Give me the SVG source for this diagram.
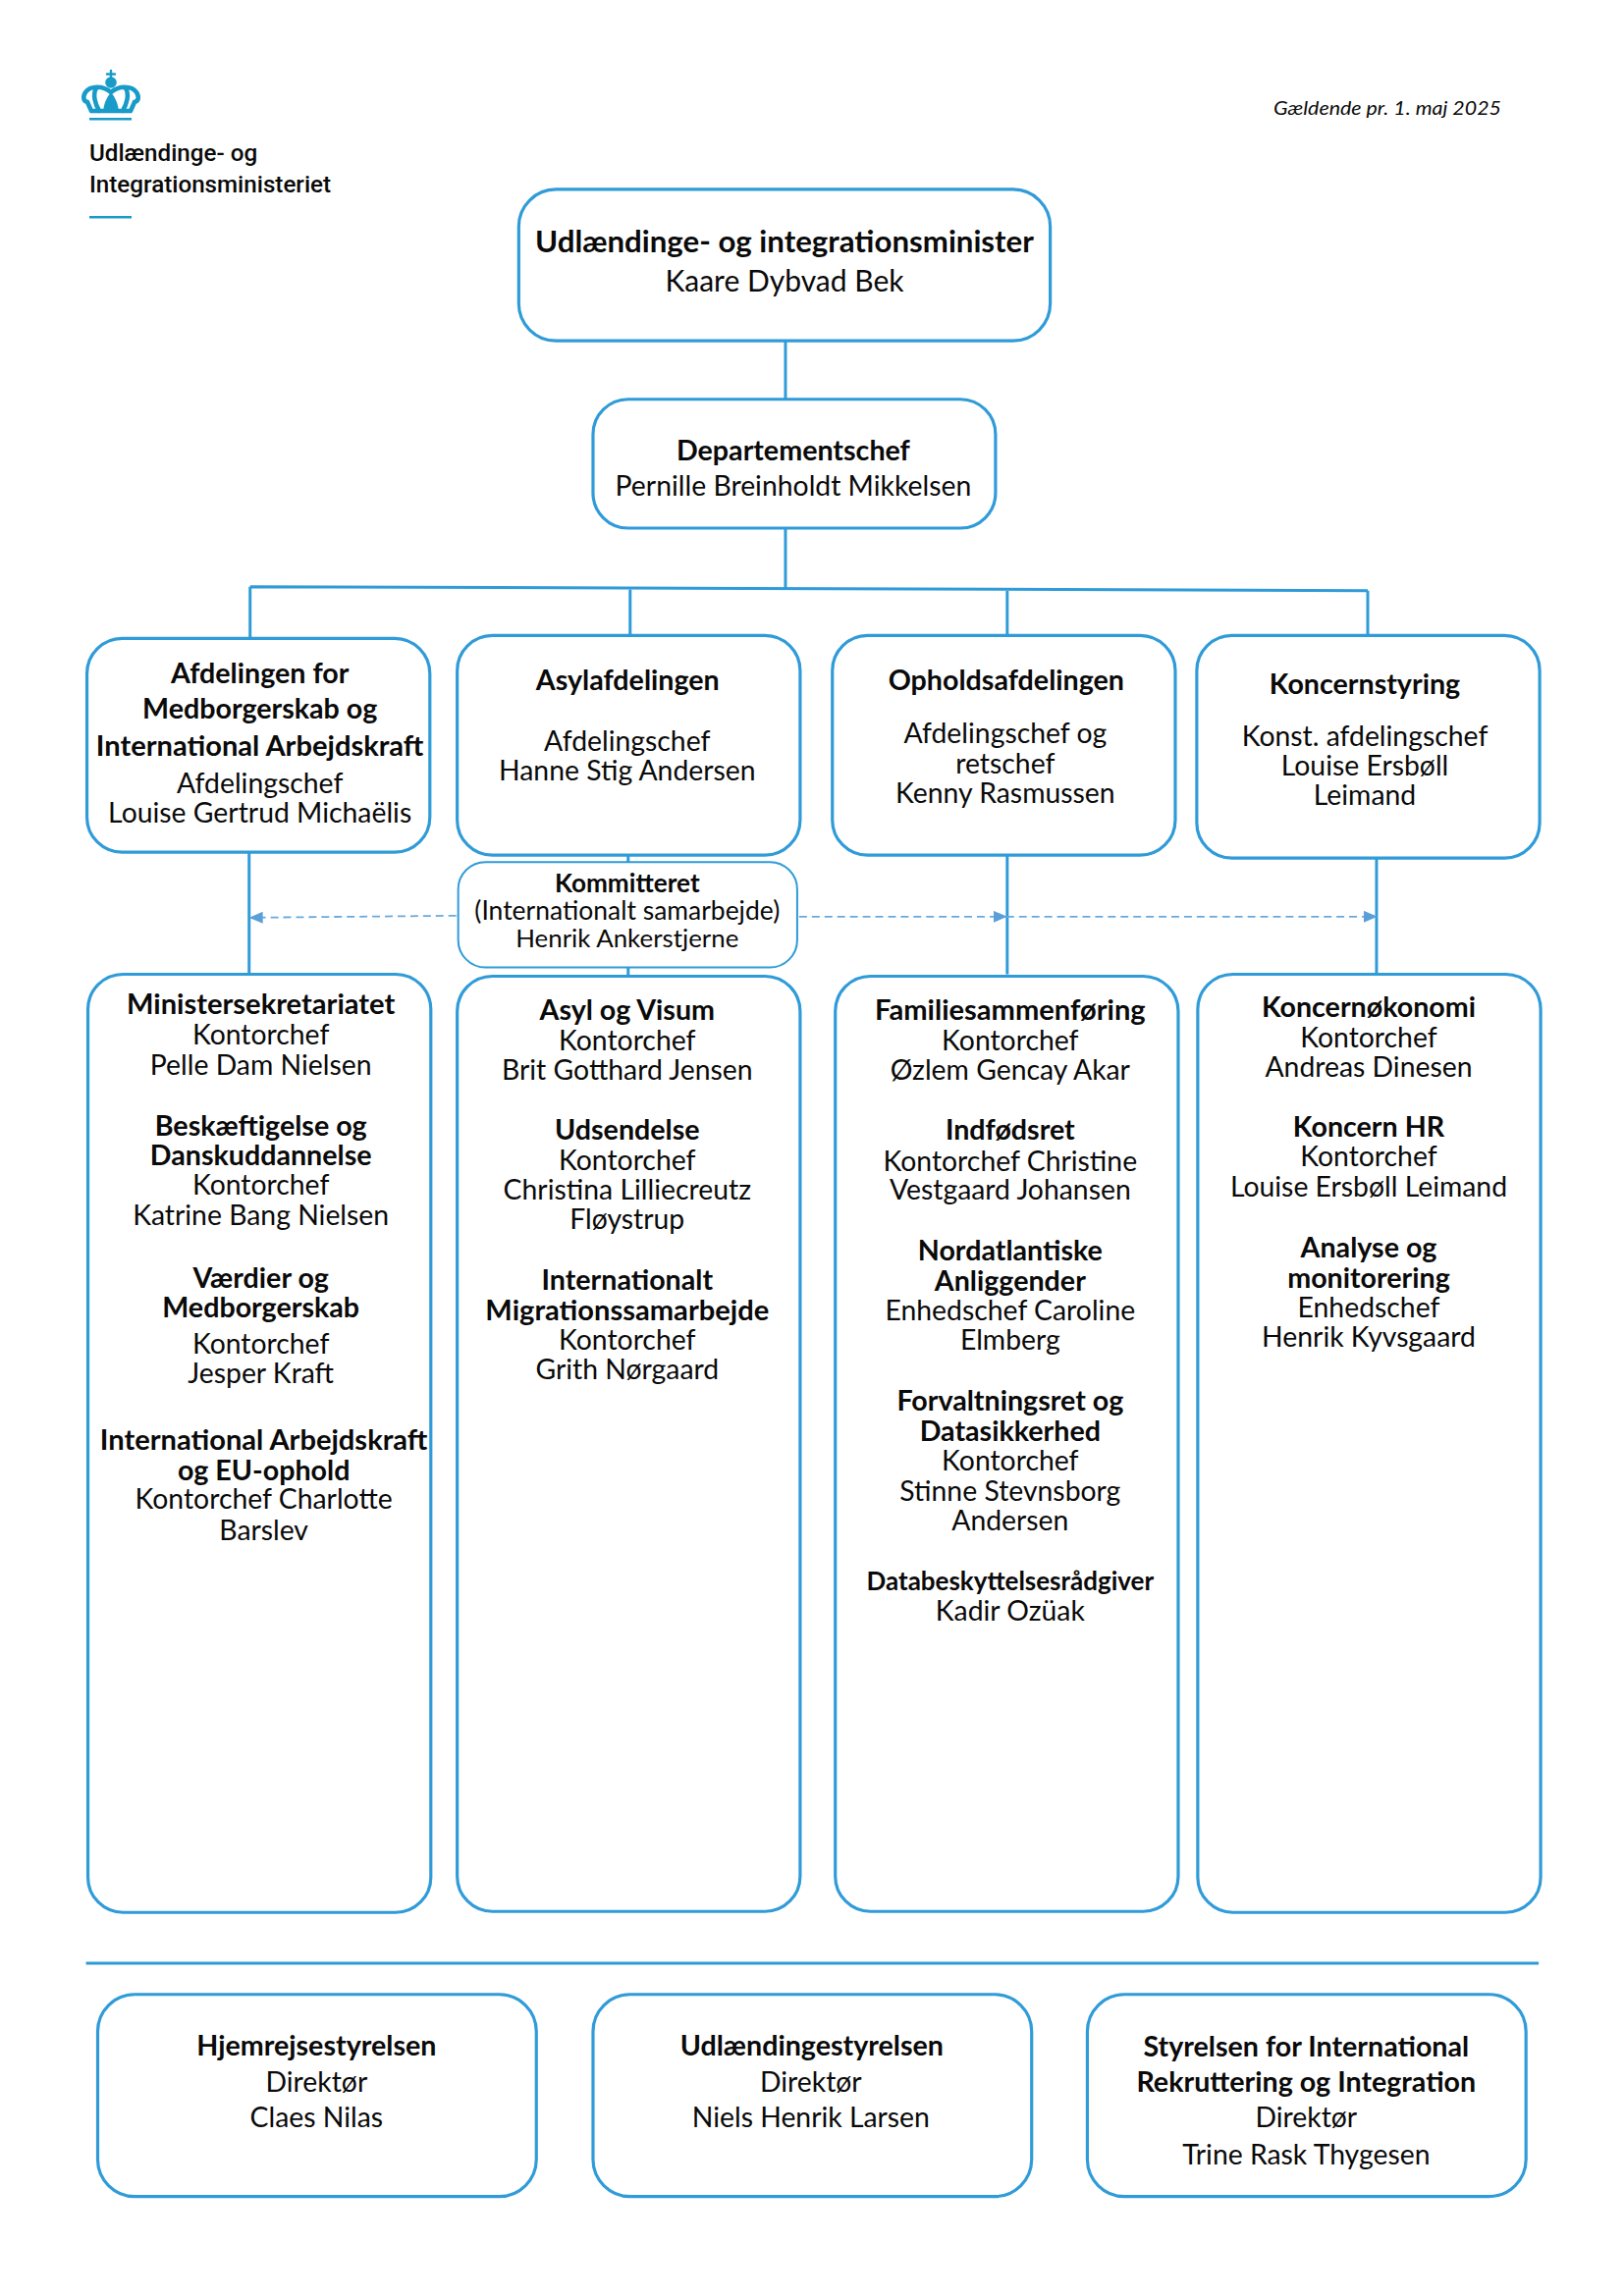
<svg xmlns="http://www.w3.org/2000/svg" width="1654" height="2339" viewBox="0 0 1654 2339">
<style>
text{font-family:"Lato","Carlito","Liberation Sans",sans-serif;fill:#0a0a0a;text-anchor:middle;font-size:28.5px;transform:translateY(1.200px)}
.b{font-weight:700;font-size:28.800px}
.w{font-size:29.250px}
.box{fill:#fff;stroke:#2f9bd8;stroke-width:3.2}
.c{fill:none;stroke:#2f9bd8;stroke-width:3}
.d{fill:none;stroke:#68a9dc;stroke-width:1.8;stroke-dasharray:8 5}
.k{font-size:26.300px}
.logo{font-family:"Roboto","Liberation Sans",sans-serif;font-weight:500;text-anchor:start;font-size:24.200px}
.cs{fill:none;stroke:#199bc9;stroke-width:4.600;stroke-linecap:round}
</style>
<defs><marker id="a" markerWidth="14" markerHeight="12" refX="13" refY="6" orient="auto" markerUnits="userSpaceOnUse" viewBox="0 0 14 12"><path d="M0 0L14 6L0 12z" fill="#5b9fd8"/></marker></defs>
<g id="logo">
<path class="cs" style="stroke-width:2.400" d="M113 72V79M109 75.500H117"/>
<circle cx="113" cy="84" r="5.800" fill="#199bc9"/>
<path class="cs" d="M113 94C105 87 92 87 87 94C84 99 85 103 89 104L93 113M98 90C94 96 97 106 101 113M113 94C121 87 134 87 139 94C142 99 141 103 137 104L133 113M128 90C132 96 129 106 125 113M93 113H133"/>
<path fill="#199bc9" d="M105 114C106 104 109 99 113 94C117 99 120 104 121 114Z"/>
<rect x="91" y="120" width="43" height="2.500" fill="#199bc9"/>
<rect x="91" y="220" width="43" height="2.500" fill="#199bc9"/>
<text class="logo" x="91" y="163">Udlændinge- og</text>
<text class="logo" x="91" y="195">Integrationsministeriet</text>
</g>
<text id="date" x="1413" y="115.500" textLength="232" lengthAdjust="spacingAndGlyphs" style="font-style:italic;font-size:20px">Gældende pr. 1. maj 2025</text>
<g transform="scale(.995 .9945)">
<g id="connectors">
<path class="c" d="M804 348V409M804 541V603M256 601L1400 605M256 601V654M645 602V651M1031 603V651M1400 605V651M255 873V998M643 876V883M643 991V1000M1031 876V998M1409 879V998"/>
<path class="c" d="M88 2011H1575"/>
<path class="d" d="M467 938L256 940" marker-end="url(#a)"/>
<path class="d" d="M818 939H1030" marker-end="url(#a)"/>
<path class="d" d="M1030 939H1409" marker-end="url(#a)"/>
</g>
<g id="minister"><rect class="box" x="531" y="194" width="544" height="155" rx="38"/>
<text class="b" style="font-size:31.400px" x="803" y="257">Udlændinge- og integrationsminister</text><text style="font-size:30.200px" x="803" y="297">Kaare Dybvad Bek</text></g>
<g id="dept"><rect class="box" x="607" y="409" width="412" height="132" rx="36"/>
<text class="b" x="812" y="470">Departementschef</text><text x="812" y="507">Pernille Breinholdt Mikkelsen</text></g>
<g id="afd1"><rect class="box" x="89" y="654" width="351" height="219" rx="36"/>
<text class="b" x="266" y="699">Afdelingen for</text><text class="b" x="266" y="735">Medborgerskab og</text><text class="b w" x="266" y="773">International Arbejdskraft</text><text x="266" y="811">Afdelingschef</text><text x="266" y="841">Louise Gertrud Michaëlis</text></g>
<g id="afd2"><rect class="box" x="468" y="651" width="351" height="225" rx="36"/>
<text class="b" x="642.500" y="706">Asylafdelingen</text><text x="642" y="768">Afdelingschef</text><text x="642" y="798">Hanne Stig Andersen</text></g>
<g id="afd3"><rect class="box" x="852" y="651" width="351" height="225" rx="36"/>
<text class="b" x="1030" y="706">Opholdsafdelingen</text><text x="1029" y="760">Afdelingschef og</text><text x="1029" y="791">retschef</text><text x="1029" y="821">Kenny Rasmussen</text></g>
<g id="afd4"><rect class="box" x="1225" y="651" width="351" height="228" rx="36"/>
<text class="b" x="1397" y="710">Koncernstyring</text><text x="1397" y="763">Konst. afdelingschef</text><text x="1397" y="793">Louise Ersbøll</text><text x="1397" y="823">Leimand</text></g>
<g id="kommitteret"><rect x="469" y="883" width="347" height="108" rx="28" style="fill:#fff;stroke:#2f9bd8;stroke-width:2"/>
<text class="b k" x="642" y="913">Kommitteret</text><text class="k" style="font-size:26.600px" x="642" y="941">(Internationalt samarbejde)</text><text class="k" style="font-size:26px" x="642" y="969">Henrik Ankerstjerne</text></g>
<g id="col1"><rect class="box" x="90" y="998" width="351" height="961" rx="36"/>
<text class="b w" x="267" y="1038">Ministersekretariatet</text><text x="267" y="1069">Kontorchef</text><text x="267" y="1100">Pelle Dam Nielsen</text>
<text class="b" x="267" y="1162">Beskæftigelse og</text><text class="b" x="267" y="1192">Danskuddannelse</text><text x="267" y="1223">Kontorchef</text><text x="267" y="1254">Katrine Bang Nielsen</text>
<text class="b" x="267" y="1318">Værdier og</text><text class="b" x="267" y="1348">Medborgerskab</text><text x="267" y="1385">Kontorchef</text><text x="267" y="1416">Jesper Kraft</text>
<text class="b w" x="270" y="1484">International Arbejdskraft</text><text class="b" x="270" y="1515">og EU-ophold</text><text x="270" y="1544">Kontorchef Charlotte</text><text x="270" y="1576">Barslev</text></g>
<g id="col2"><rect class="box" x="468" y="1000" width="351" height="958" rx="36"/>
<text class="b" x="642" y="1044">Asyl og Visum</text><text x="642" y="1075">Kontorchef</text><text x="642" y="1105">Brit Gotthard Jensen</text>
<text class="b" x="642" y="1166">Udsendelse</text><text x="642" y="1197">Kontorchef</text><text x="642" y="1228">Christina Lilliecreutz</text><text x="642" y="1258">Fløystrup</text>
<text class="b" x="642" y="1320">Internationalt</text><text class="b w" x="642" y="1351">Migrationssamarbejde</text><text x="642" y="1381">Kontorchef</text><text x="642" y="1412">Grith Nørgaard</text></g>
<g id="col3"><rect class="box" x="855" y="1000" width="351" height="958" rx="36"/>
<text class="b w" x="1034" y="1044">Familiesammenføring</text><text x="1034" y="1075">Kontorchef</text><text x="1034" y="1105">Øzlem Gencay Akar</text>
<text class="b" x="1034" y="1166">Indfødsret</text><text x="1034" y="1198">Kontorchef Christine</text><text x="1034" y="1228">Vestgaard Johansen</text>
<text class="b" x="1034" y="1290">Nordatlantiske</text><text class="b" x="1034" y="1321">Anliggender</text><text x="1034" y="1351">Enhedschef Caroline</text><text x="1034" y="1381">Elmberg</text>
<text class="b" x="1034" y="1444">Forvaltningsret og</text><text class="b" x="1034" y="1475">Datasikkerhed</text><text x="1034" y="1505">Kontorchef</text><text x="1034" y="1536">Stinne Stevnsborg</text><text x="1034" y="1566">Andersen</text>
<text class="b" x="1034" y="1628" style="font-size:26.100px">Databeskyttelsesrådgiver</text><text x="1034" y="1659">Kadir Ozüak</text></g>
<g id="col4"><rect class="box" x="1226" y="998" width="351" height="961" rx="36"/>
<text class="b" x="1401" y="1041">Koncernøkonomi</text><text x="1401" y="1072">Kontorchef</text><text x="1401" y="1102">Andreas Dinesen</text>
<text class="b" x="1401" y="1163">Koncern HR</text><text x="1401" y="1193">Kontorchef</text><text x="1401" y="1225">Louise Ersbøll Leimand</text>
<text class="b" x="1401" y="1287">Analyse og</text><text class="b" x="1401" y="1318">monitorering</text><text x="1401" y="1348">Enhedschef</text><text x="1401" y="1378">Henrik Kyvsgaard</text></g>
<g id="hjem"><rect class="box" x="100" y="2043" width="449" height="207" rx="38"/>
<text class="b" x="324" y="2104">Hjemrejsestyrelsen</text><text x="324" y="2142">Direktør</text><text x="324" y="2178">Claes Nilas</text></g>
<g id="uds"><rect class="box" x="607" y="2043" width="449" height="207" rx="38"/>
<text class="b" x="831" y="2104">Udlændingestyrelsen</text><text x="830" y="2142">Direktør</text><text x="830" y="2178">Niels Henrik Larsen</text></g>
<g id="sirito"><rect class="box" x="1113" y="2043" width="449" height="207" rx="38"/>
<text class="b" x="1337" y="2105">Styrelsen for International</text><text class="b" x="1337" y="2142">Rekruttering og Integration</text><text x="1337" y="2178">Direktør</text><text x="1337" y="2216">Trine Rask Thygesen</text></g>
</g>
</svg>
